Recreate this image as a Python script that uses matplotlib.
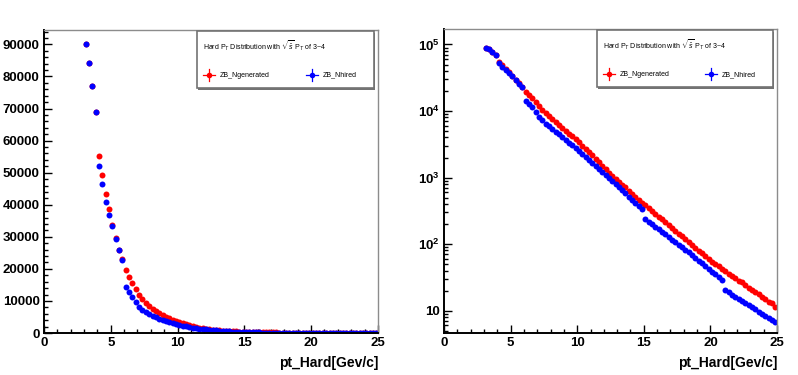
import numpy as np
import matplotlib
matplotlib.use("Agg")
import matplotlib.pyplot as plt
from matplotlib.ticker import MultipleLocator, FixedLocator, FixedFormatter, LogLocator, NullFormatter
from matplotlib.patches import Rectangle

plt.rcParams['font.family'] = ['Liberation Sans', 'DejaVu Sans']
plt.rcParams['mathtext.fontset'] = 'custom'
plt.rcParams['mathtext.rm'] = 'Liberation Sans'
plt.rcParams['mathtext.it'] = 'Liberation Sans:italic'
plt.rcParams['mathtext.bf'] = 'Liberation Sans:bold'

# histogram binning (0.25 GeV/c bins), first filled bin starts at 3.0
bin_low = 3.0
bin_width = 0.25

# ZB_Ngenerated (red)
n_generated = [90000, 84200, 77000, 68900, 55200, 49400, 43300, 38600, 33600, 29500,
               26000, 23000, 19600, 17500, 15500, 13600, 11800, 10500, 9250, 8360,
               7550, 6840, 6190, 5600, 5060, 4570, 4140, 3740, 3390, 3020,
               2690, 2400, 2160, 1905, 1700, 1515, 1350, 1185, 1070, 955,
               863, 778, 712, 634, 573, 516, 462, 421, 380, 345,
               312, 284, 258, 236, 212, 192, 176, 158, 143, 130,
               118, 106, 97, 87.8, 79.6, 73.5, 65.2, 59.6, 53.9, 49.7,
               46.4, 42.3, 39.0, 35.9, 32.6, 30.6, 28.1, 26.5, 24.0, 22.0,
               20.3, 18.7, 17.6, 15.9, 14.9, 13.6, 12.8, 11.5]

# ZB_Nhired (blue)
n_hired = [90000, 84200, 77000, 68900, 52100, 46400, 40800, 36700, 33300, 29300,
           25900, 22900, 14300, 12900, 11300, 9700, 8200, 7260, 6400, 5850,
           5350, 4900, 4490, 4055, 3710, 3350, 3070, 2770, 2540, 2290,
           2065, 1860, 1680, 1515, 1365, 1230, 1096, 989, 881, 794,
           718, 647, 578, 515, 466, 415, 371, 334, 237, 217,
           198, 183, 167, 154, 140, 128, 117, 107, 97.8, 89.4,
           81.7, 74.7, 67.5, 61.7, 55.8, 51.0, 46.0, 41.7, 38.1, 35.0,
           32.1, 29.2, 20.1, 18.7, 17.3, 16.1, 15.0, 13.9, 12.9, 12.0,
           11.2, 10.4, 9.6, 8.95, 8.3, 7.7, 7.2, 6.7]

series_labels = ['ZB_Ngenerated', 'ZB_Nhired']
series_colors = ['#ff0000', '#0000ff']
legend_title = r'Hard P$_T$ Distribution with $\sqrt{\hat{s}}$ P$_T$ of 3~4'
x_label = 'pt_Hard[Gev/c]'

pt = bin_low + bin_width / 2 + bin_width * np.arange(len(n_generated))


def style_axes(ax):
    for side in ['left', 'bottom']:
        ax.spines[side].set_color('black')
        ax.spines[side].set_linewidth(1.4)
    for side in ['top', 'right']:
        ax.spines[side].set_color('0.55')
        ax.spines[side].set_linewidth(1.0)
    ax.tick_params(which='both', direction='in', top=False, right=False,
                   labelsize=9.5, width=1)
    ax.tick_params(which='major', length=6, pad=3)
    ax.tick_params(which='minor', length=3)
    ax.set_xlim(0, 25)
    ax.xaxis.set_major_locator(MultipleLocator(5))
    ax.xaxis.set_minor_locator(MultipleLocator(1))
    for lab in ax.get_xticklabels() + ax.get_yticklabels():
        lab.set_fontweight('bold')
    ax.set_xlabel(x_label, loc='right', fontweight='bold', fontsize=10, labelpad=5)


def draw_legend(ax):
    x0, x1, y0, y1 = 0.458, 0.988, 0.809, 0.997
    ax.add_patch(Rectangle((x0 + 0.004, y0 - 0.006), x1 - x0, y1 - y0,
                           transform=ax.transAxes, facecolor='0.45',
                           edgecolor='none', clip_on=False, zorder=5))
    ax.add_patch(Rectangle((x0, y0), x1 - x0, y1 - y0, transform=ax.transAxes,
                           facecolor='white', edgecolor='0.45', lw=1.2,
                           clip_on=False, zorder=6))
    ax.text(0.476, 0.947, legend_title, transform=ax.transAxes, fontsize=5,
            ha='left', va='center', zorder=7)
    for mx, lab, col in zip([0.494, 0.802], series_labels, series_colors):
        ax.plot([mx - 0.018, mx + 0.018], [0.851, 0.851], color=col, lw=0.9,
                transform=ax.transAxes, clip_on=False, zorder=7)
        ax.plot([mx, mx], [0.851 - 0.02, 0.851 + 0.02], color=col, lw=0.9,
                transform=ax.transAxes, clip_on=False, zorder=7)
        ax.plot([mx], [0.851], 'o', color=col, ms=4, mec='none',
                transform=ax.transAxes, clip_on=False, zorder=8)
        ax.text(mx + 0.033, 0.851, lab, transform=ax.transAxes, fontsize=5,
                ha='left', va='center', zorder=7)


fig = plt.figure(figsize=(7.98, 3.75), dpi=100)
ax1 = fig.add_axes([0.0551, 0.112, 0.4185, 0.808])
ax2 = fig.add_axes([0.5564, 0.112, 0.4173, 0.8107])

for ax in (ax1, ax2):
    for vals, col in zip([n_generated, n_hired], series_colors):
        ax.plot(pt, vals, 'o', color=col, ms=4.3, mec='none')

# linear panel
ax1.set_ylim(0, 94500)
ax1.yaxis.set_major_locator(MultipleLocator(10000))
ax1.yaxis.set_minor_locator(MultipleLocator(2000))
style_axes(ax1)
draw_legend(ax1)

# log panel
ax2.set_yscale('log')
ax2.set_ylim(4.6, 1.71e5)
ax2.yaxis.set_major_locator(FixedLocator([10, 100, 1000, 10000, 100000]))
ax2.yaxis.set_major_formatter(FixedFormatter(
    ['10', r'$\mathbf{10^{2}}$', r'$\mathbf{10^{3}}$', r'$\mathbf{10^{4}}$', r'$\mathbf{10^{5}}$']))
ax2.yaxis.set_minor_locator(LogLocator(base=10, subs=np.arange(2, 10)))
ax2.yaxis.set_minor_formatter(NullFormatter())
style_axes(ax2)
draw_legend(ax2)

fig.savefig('out.png', dpi=100)
